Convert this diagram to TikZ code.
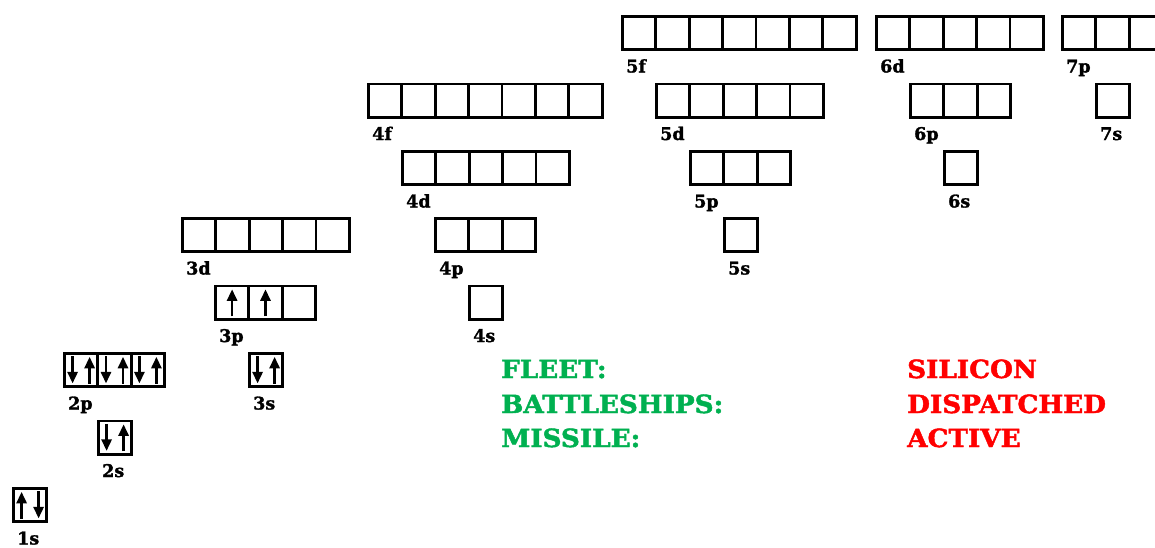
\documentclass[tikz,border=0pt]{standalone}
\usepackage{fontspec}
\setmainfont{DejaVu Serif}
\newfontfamily\heavyserif{DejaVu Serif}[BoldFeatures={FakeBold=1.6}]
\newfontfamily\heavywide{DejaVu Serif}[BoldFeatures={FakeBold=1.8,FakeStretch=1.05}]
\usetikzlibrary{arrows.meta}
\definecolor{fleetgreen}{RGB}{0,176,80}
\definecolor{alertred}{RGB}{255,0,0}
\tikzset{
 cell/.style={draw,line width=2.8pt,minimum width=33.4pt,minimum height=33.4pt,inner sep=0pt,outer sep=0pt},
 orblabel/.style={anchor=base west,inner sep=0pt,font=\heavyserif\bfseries\fontsize{17.5}{17.5}\selectfont},
 spin/.style={line width=2.6pt,-{Triangle[width=10pt,length=11.5pt]}},
 info/.style={anchor=base west,inner sep=0pt,font=\heavywide\bfseries\fontsize{25}{25}\selectfont},
}
\newcommand{\orbital}[5]{%
 \foreach \i in {1,...,#4}{
   \node[cell] (#1-\i) at ({#2+1.4+33.4*(\i-0.5)},{#3+1.4+16.7}) {};
 }
 \node[orblabel] (#1-lab) at (#2+5,#3+57.5) {#5};
}
\newcommand{\spinup}[2]{\draw[spin] ([xshift=#2]#1.south) ++(0,-3) -- ++(0,-27);}
\newcommand{\spindown}[2]{\draw[spin] ([xshift=#2]#1.north) ++(0,3) -- ++(0,27);}
\begin{document}
\begin{tikzpicture}[x=1pt,y=-1pt]
\useasboundingbox (0,0) rectangle (1155,547);
\clip (0,0) rectangle (1155,547);
\orbital{o1s}{12}{487}{1}{1s}
\orbital{o2s}{97}{419.5}{1}{2s}
\orbital{o2p}{63}{352}{3}{2p}
\orbital{o3s}{248}{352}{1}{3s}
\orbital{o3p}{214}{284.5}{3}{3p}
\orbital{o3d}{181}{217}{5}{3d}
\orbital{o4s}{468}{284.5}{1}{4s}
\orbital{o4p}{434}{217}{3}{4p}
\orbital{o4d}{401}{150}{5}{4d}
\orbital{o4f}{367}{82.5}{7}{4f}
\orbital{o5s}{723}{217}{1}{5s}
\orbital{o5p}{689}{150}{3}{5p}
\orbital{o5d}{655}{82.5}{5}{5d}
\orbital{o5f}{621}{15}{7}{5f}
\orbital{o6s}{943}{150}{1}{6s}
\orbital{o6p}{909}{82.5}{3}{6p}
\orbital{o6d}{875}{15}{5}{6d}
\orbital{o7s}{1095}{82.5}{1}{7s}
\orbital{o7p}{1061}{15}{3}{7p}
% electrons
\spinup{o1s-1}{-8.5}\spindown{o1s-1}{8.5}
\spindown{o2s-1}{-8.5}\spinup{o2s-1}{8.5}
\spindown{o2p-1}{-8.5}\spinup{o2p-1}{8.5}
\spindown{o2p-2}{-8.5}\spinup{o2p-2}{8.5}
\spindown{o2p-3}{-8.5}\spinup{o2p-3}{8.5}
\spindown{o3s-1}{-8.5}\spinup{o3s-1}{8.5}
\spinup{o3p-1}{0}
\spinup{o3p-2}{0}
% text
\node[info,text=fleetgreen] (k1) at (501,378) {FLEET:};
\node[info,text=fleetgreen] (k2) at (501,413) {BATTLESHIPS:};
\node[info,text=fleetgreen] (k3) at (501,447) {MISSILE:};
\node[info,text=alertred] (v1) at (907,378) {SILICON};
\node[info,text=alertred] (v2) at (907,413) {DISPATCHED};
\node[info,text=alertred] (v3) at (907,447) {ACTIVE};
\end{tikzpicture}
\end{document}
